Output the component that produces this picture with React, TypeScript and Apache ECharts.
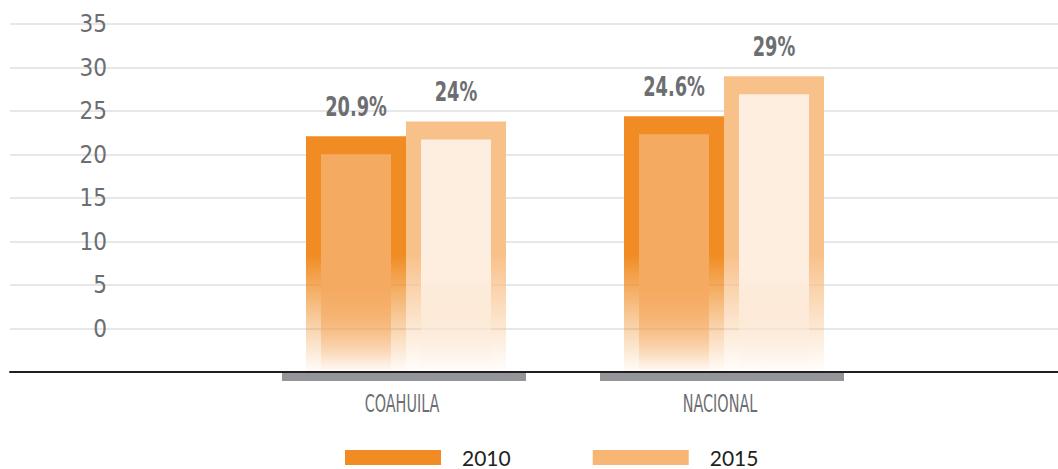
import React, { useEffect, useRef } from "react";
import * as echarts from "echarts";

const categories = ["COAHUILA", "NACIONAL"];
const seriesNames = ["2010", "2015"];
const values2010 = [22.1, 24.4];
const values2015 = [23.8, 29.0];
const labels2010 = ["20.9%", "24.6%"];
const labels2015 = ["24%", "29%"];
const yMin = -5;
const yMax = 35;
const yInterval = 5;

const outerColors = ["240,140,35", "249,193,138"];
const innerColors = ["245,170,98", "253,238,224"];
const legendColors = ["#f08c23", "#f7b673"];

function rgba(c: string, a: number) {
  return `rgba(${c},${a})`;
}

export default function App() {
  const ref = useRef<HTMLDivElement>(null);
  useEffect(() => {
    if (!ref.current) return;
    const chart = echarts.init(ref.current, undefined, { renderer: "svg" });

    const makeBarSeries = (idx: number, values: number[], labels: string[]) => ({
      type: "custom",
      name: seriesNames[idx],
      xAxisIndex: 1,
      yAxisIndex: 1,
      itemStyle: { color: legendColors[idx] },
      data: values.map((v, i) => [i, v]),
      encode: { x: 0, y: 1 },
      z: 3,
      renderItem: (params: any, api: any) => {
        const cat = api.value(0);
        const v = api.value(1);
        const top = api.coord([cat, v]);
        const bottom = api.coord([cat, yMin]);
        const band = api.size([1, 0])[0];
        const barW = band * 0.3145;
        const cx = top[0] + (idx === 0 ? -barW / 2 : barW / 2);
        const x0 = cx - barW / 2;
        const ty = top[1];
        const by = bottom[1];
        const fadeStart = api.coord([cat, 8.5])[1];
        const innerFade = api.coord([cat, 6])[1];
        const inset = 15;
        const topInset = 18;
        const oc = outerColors[idx];
        const ic = innerColors[idx];
        const outerGrad = new echarts.graphic.LinearGradient(
          0,
          fadeStart,
          0,
          by,
          [
            { offset: 0, color: rgba(oc, 1) },
            { offset: 0.35, color: rgba(oc, 0.65) },
            { offset: 0.7, color: rgba(oc, 0.3) },
            { offset: 1, color: rgba(oc, 0.02) },
          ],
          true
        );
        const innerGrad = new echarts.graphic.LinearGradient(
          0,
          innerFade,
          0,
          by,
          [
            { offset: 0, color: rgba(ic, 1) },
            { offset: 0.5, color: rgba(ic, 0.6) },
            { offset: 1, color: rgba(ic, 0.0) },
          ],
          true
        );
        return {
          type: "group",
          children: [
            {
              type: "rect",
              shape: { x: x0, y: ty, width: barW, height: by - ty },
              style: { fill: outerGrad },
            },
            {
              type: "rect",
              shape: {
                x: x0 + inset,
                y: ty + topInset,
                width: barW - inset * 2,
                height: by - ty - topInset,
              },
              style: { fill: innerGrad },
            },
            {
              type: "text",
              x: cx,
              y: ty - 16,
              scaleX: 0.76,
              style: {
                text: labels[cat],
                x: 0,
                y: 0,
                font: 'bold 26px "Liberation Sans Narrow", "DejaVu Sans Condensed", sans-serif',
                fill: "#6d6e71",
                align: "center",
                verticalAlign: "bottom",
              },
            },
          ],
        };
      },
    });

    const option: any = {
      animation: false,
      backgroundColor: "#ffffff",
      grid: [
        { left: 10, right: 0, top: 24, height: 348 },
        { left: 247, right: 175, top: 24, height: 348 },
      ],
      xAxis: [
        {
          type: "category",
          gridIndex: 0,
          data: categories,
          axisLine: { show: true, onZero: false, lineStyle: { color: "#231f20", width: 2 } },
          axisTick: { show: false },
          axisLabel: { show: false },
          z: 5,
        },
        {
          type: "category",
          gridIndex: 1,
          data: categories,
          show: false,
        },
      ],
      yAxis: [
        {
          type: "value",
          gridIndex: 0,
          min: yMin,
          max: yMax,
          interval: yInterval,
          axisLine: { show: false },
          axisTick: { show: false },
          splitLine: { show: true, lineStyle: { color: "#e6e7e8", width: 2 } },
          axisLabel: {
            inside: true,
            margin: 97,
            align: "right",
            color: "#6d6e71",
            fontSize: 24,
            fontFamily: '"Liberation Sans Narrow", "DejaVu Sans Condensed", sans-serif',
            padding: [5, 0, 0, 0],
            formatter: (v: number) => (v < 0 ? "" : String(v)),
          },
        },
        {
          type: "value",
          gridIndex: 1,
          min: yMin,
          max: yMax,
          interval: yInterval,
          show: false,
        },
      ],
      legend: {
        left: 345,
        top: 447,
        padding: 0,
        icon: "rect",
        itemWidth: 96,
        itemHeight: 15,
        itemGap: 82,
        textStyle: {
          fontFamily: "Lato, sans-serif",
          fontSize: 21,
          lineHeight: 21,
          color: "#231f20",
          padding: [0, 0, 0, 16],
        },
        data: seriesNames.map((n, i) => ({ name: n, itemStyle: { color: legendColors[i] } })),
      },
      series: [
        makeBarSeries(0, values2010, labels2010),
        makeBarSeries(1, values2015, labels2015),
        {
          type: "custom",
          name: "categorias",
          xAxisIndex: 1,
          yAxisIndex: 1,
          data: categories.map((_, i) => [i, yMin]),
          encode: { x: 0, y: 1 },
          z: 4,
          clip: false,
          renderItem: (params: any, api: any) => {
            const cat = api.value(0);
            const p = api.coord([cat, yMin]);
            return {
              type: "group",
              children: [
                {
                  type: "rect",
                  shape: { x: p[0] - 124, y: p[1] + 1, width: 244, height: 8 },
                  style: { fill: "#939598" },
                },
                {
                  type: "text",
                  x: p[0] - 4,
                  y: p[1] + 19,
                  scaleX: 0.64,
                  style: {
                    text: categories[cat],
                    x: 0,
                    y: 0,
                    font: '25px "Liberation Sans Narrow", "DejaVu Sans Condensed", sans-serif',
                    fill: "#6d6e71",
                    align: "center",
                    verticalAlign: "top",
                  },
                },
              ],
            };
          },
        },
      ],
    };
    chart.setOption(option);
    return () => chart.dispose();
  }, []);
  return (
    <div
      ref={ref}
      style={{ position: "fixed", left: 0, top: 0, width: 1058, height: 469 }}
    />
  );
}
